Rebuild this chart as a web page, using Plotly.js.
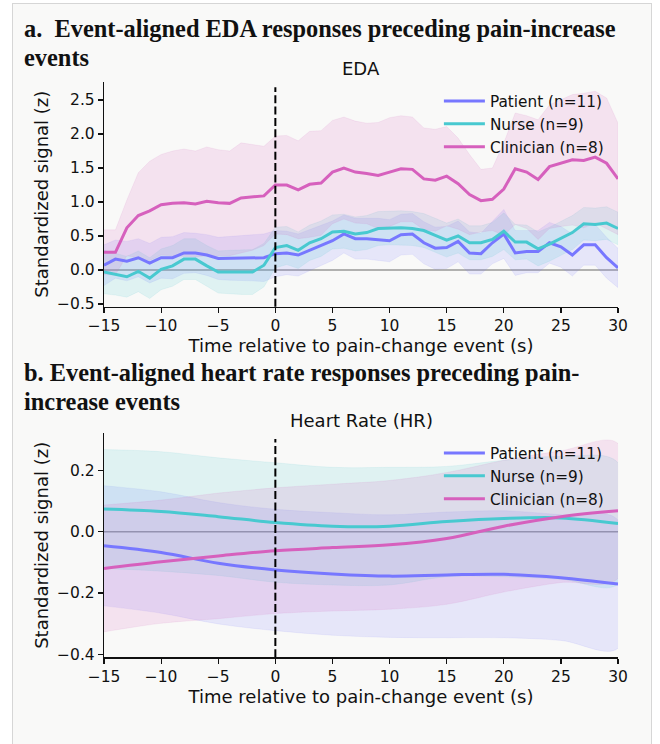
<!DOCTYPE html>
<html>
<head>
<meta charset="utf-8">
<script src="https://cdn.plot.ly/plotly-3.0.1.min.js"></script>
<style>
  html, body { margin:0; padding:0; background:#ffffff; }
  #card { position:absolute; left:12px; top:3px; width:638px; height:745px; background:#f9f9f8;
          border-left:1px solid #d6d6d6; border-top:1px solid #d6d6d6; border-right:1px solid #d6d6d6; }
  #plot { position:absolute; left:0; top:0; width:660px; height:744px; }
  .hd { position:absolute; left:24px; font-family:"Liberation Serif", "Times New Roman", serif; font-weight:bold;
        font-size:24.4px; line-height:28.5px; color:#111; white-space:nowrap; z-index:5; }
</style>
</head>
<body>
<div id="card"></div>
<div id="plot"></div>
<div class="hd" style="top:15px">a.&nbsp; Event-aligned EDA responses preceding pain-increase<br>events</div>
<div class="hd" style="top:359px">b. Event-aligned heart rate responses preceding pain-<br>increase events</div>
<script>
// ---------- Panel a: EDA (1-s bins) ----------
const edaTimes = [-15,-14,-13,-12,-11,-10,-9,-8,-7,-6,-5,-4,-3,-2,-1,0,1,2,3,4,5,6,7,8,9,10,11,12,13,14,15,16,17,18,19,20,21,22,23,24,25,26,27,28,29,30];
const edaPatient = [0.07,0.16,0.13,0.18,0.10,0.18,0.18,0.25,0.25,0.22,0.17,0.17,0.17,0.18,0.18,0.24,0.25,0.22,0.29,0.36,0.43,0.53,0.46,0.46,0.45,0.43,0.52,0.53,0.40,0.32,0.33,0.42,0.25,0.24,0.40,0.53,0.25,0.27,0.27,0.40,0.34,0.22,0.37,0.37,0.18,0.03];
const edaPatientSem = [0.30,0.28,0.29,0.28,0.29,0.30,0.31,0.30,0.29,0.30,0.31,0.32,0.33,0.34,0.35,0.34,0.32,0.31,0.30,0.29,0.29,0.28,0.30,0.30,0.31,0.31,0.30,0.30,0.31,0.31,0.31,0.30,0.31,0.30,0.31,0.36,0.33,0.31,0.31,0.30,0.30,0.31,0.30,0.30,0.30,0.29];
const edaNurse = [-0.03,-0.06,-0.10,-0.02,-0.12,0.01,0.06,0.16,0.16,0.06,-0.03,-0.03,-0.03,-0.03,0.07,0.33,0.36,0.29,0.40,0.46,0.56,0.57,0.53,0.55,0.61,0.62,0.62,0.61,0.58,0.51,0.44,0.50,0.40,0.40,0.45,0.57,0.41,0.41,0.31,0.38,0.46,0.55,0.68,0.67,0.69,0.61];
const edaNurseSem = [0.32,0.31,0.30,0.30,0.30,0.30,0.30,0.30,0.30,0.30,0.31,0.32,0.33,0.33,0.32,0.30,0.28,0.27,0.26,0.26,0.25,0.25,0.25,0.25,0.25,0.25,0.25,0.25,0.25,0.25,0.25,0.25,0.25,0.25,0.25,0.27,0.26,0.25,0.25,0.25,0.25,0.25,0.24,0.24,0.24,0.24];
const edaClinician = [0.26,0.26,0.62,0.80,0.87,0.96,0.98,0.99,0.97,1.01,0.99,0.98,1.06,1.07,1.09,1.25,1.25,1.18,1.26,1.28,1.44,1.50,1.44,1.42,1.39,1.44,1.49,1.48,1.34,1.32,1.38,1.27,1.11,1.02,1.04,1.19,1.49,1.44,1.33,1.52,1.57,1.62,1.61,1.66,1.57,1.34];
const edaClinicianSem = [0.33,0.33,0.41,0.63,0.73,0.74,0.77,0.79,0.78,0.80,0.78,0.77,0.81,0.78,0.73,0.72,0.73,0.72,0.78,0.77,0.76,0.75,0.75,0.74,0.78,0.80,0.78,0.77,0.75,0.75,0.73,0.67,0.59,0.46,0.46,0.68,0.82,0.83,0.88,0.91,0.93,0.96,0.99,0.97,0.96,0.82];

// ---------- Panel b: Heart rate (smoothed) ----------
const hrTimes = [-15,-10,-5,0,5,10,15,20,25,30];
const hrPatient = [-0.046,-0.068,-0.103,-0.125,-0.138,-0.145,-0.141,-0.139,-0.150,-0.171];
const hrPatientSem = [0.196,0.198,0.198,0.198,0.200,0.200,0.205,0.207,0.205,0.209];
const hrNurse = [0.074,0.066,0.049,0.030,0.018,0.018,0.033,0.043,0.045,0.027];
const hrNurseSem = [0.194,0.195,0.192,0.195,0.192,0.192,0.180,0.190,0.200,0.198];
const hrClinician = [-0.120,-0.098,-0.079,-0.062,-0.052,-0.043,-0.022,0.018,0.049,0.068];
const hrClinicianSem = [0.207,0.201,0.205,0.205,0.207,0.210,0.215,0.215,0.215,0.220];

const groupNames = ['Patient (n=11)','Nurse (n=9)','Clinician (n=8)'];
const groupColors = ['#7777ff','#48c9d0','#d660bd'];
const bandColors = ['rgba(119,119,255,0.15)','rgba(72,201,208,0.15)','rgba(214,96,189,0.15)'];

function band(x, m, s, color, xa, ya, shape){
  const up = m.map((v,i)=>v+s[i]);
  const lo = m.map((v,i)=>v-s[i]);
  return {x: x.concat(x.slice().reverse()), y: up.concat(lo.slice().reverse()),
    type:'scatter', mode:'lines', fill:'toself', fillcolor:color,
    line:{width:0.6, color:color, shape:shape}, hoverinfo:'skip', showlegend:false, xaxis:xa, yaxis:ya};
}
function line(x, m, i, xa, ya, shape, leg){
  return {x:x, y:m, type:'scatter', mode:'lines', name:groupNames[i],
    line:{color:groupColors[i], width:3, shape:shape}, xaxis:xa, yaxis:ya, legend:leg};
}

const edaM = [edaPatient, edaNurse, edaClinician];
const edaS = [edaPatientSem, edaNurseSem, edaClinicianSem];
const hrM = [hrPatient, hrNurse, hrClinician];
const hrS = [hrPatientSem, hrNurseSem, hrClinicianSem];

const traces = [];
for (let i=0;i<3;i++) traces.push(band(edaTimes, edaM[i], edaS[i], bandColors[i], 'x', 'y', 'linear'));
for (let i=0;i<3;i++) traces.push(line(edaTimes, edaM[i], i, 'x', 'y', 'linear', 'legend'));
for (let i=0;i<3;i++) traces.push(band(hrTimes, hrM[i], hrS[i], bandColors[i], 'x2', 'y2', 'spline'));
for (let i=0;i<3;i++) traces.push(line(hrTimes, hrM[i], i, 'x2', 'y2', 'spline', 'legend2'));

const axFont = {family:'DejaVu Sans', size:15.5, color:'#111'};
const titleFont = {family:'DejaVu Sans', size:18, color:'#111'};
function xax(anchor){
  return {domain:[0.1576,0.9364], range:[-15,30], anchor:anchor, dtick:5, tick0:0,
    showline:true, linecolor:'#111', linewidth:1.2, ticks:'outside', ticklen:5, tickwidth:1.2, tickcolor:'#111',
    showgrid:false, zeroline:false, tickfont:axFont,
    title:{text:'Time relative to pain-change event (s)', font:titleFont, standoff:0}, automargin:false};
}
function yax(anchor, dom, rng, tv){
  return {domain:dom, range:rng, anchor:anchor, tickvals:tv, tickformat:'.1f',
    showline:true, linecolor:'#111', linewidth:1.2, ticks:'outside', ticklen:5, tickwidth:1.2, tickcolor:'#111',
    showgrid:false, zeroline:false, tickfont:axFont,
    title:{text:'Standardized signal (z)', font:titleFont, standoff:3}, automargin:false};
}

const legendBase = {font:{family:'DejaVu Sans', size:15.3, color:'#111'}, bgcolor:'rgba(0,0,0,0)',
  borderwidth:0, xanchor:'left', yanchor:'top', traceorder:'normal', itemwidth:41};

const layout = {
  width:660, height:744, margin:{l:0,r:0,t:0,b:0},
  paper_bgcolor:'rgba(0,0,0,0)', plot_bgcolor:'rgba(0,0,0,0)',
  font:axFont, showlegend:true,
  xaxis: xax('y'),
  yaxis: yax('x', [0.5878,0.8902], [-0.54,2.77], [-0.5,0,0.5,1,1.5,2,2.5]),
  xaxis2: xax('y2'),
  yaxis2: yax('x2', [0.1165,0.4176], [-0.41,0.321], [-0.4,-0.2,0,0.2]),
  legend: Object.assign({x:0.665, y:0.8864}, legendBase),
  legend2: Object.assign({x:0.665, y:0.4133}, legendBase),
  annotations:[
    {text:'EDA', xref:'paper', yref:'paper', x:0.547, y:1-68/744, xanchor:'center', yanchor:'middle', showarrow:false, font:titleFont},
    {text:'Heart Rate (HR)', xref:'paper', yref:'paper', x:0.547, y:1-420/744, xanchor:'center', yanchor:'middle', showarrow:false, font:titleFont}
  ],
  shapes:[
    {type:'line', xref:'x domain', yref:'y', x0:0, x1:1, y0:0, y1:0, line:{color:'#999999', width:1.5}, layer:'below'},
    {type:'line', xref:'x', yref:'y domain', x0:0, x1:0, y0:0, y1:0.975, line:{color:'#000', width:2, dash:'8px,3.3px'}, layer:'above'},
    {type:'line', xref:'x2 domain', yref:'y2', x0:0, x1:1, y0:0, y1:0, line:{color:'#999999', width:1.5}, layer:'below'},
    {type:'line', xref:'x2', yref:'y2 domain', x0:0, x1:0, y0:0, y1:0.975, line:{color:'#000', width:2, dash:'8px,3.3px'}, layer:'above'}
  ]
};

Plotly.newPlot('plot', traces, layout, {displayModeBar:false, staticPlot:true});
</script>
</body>
</html>
